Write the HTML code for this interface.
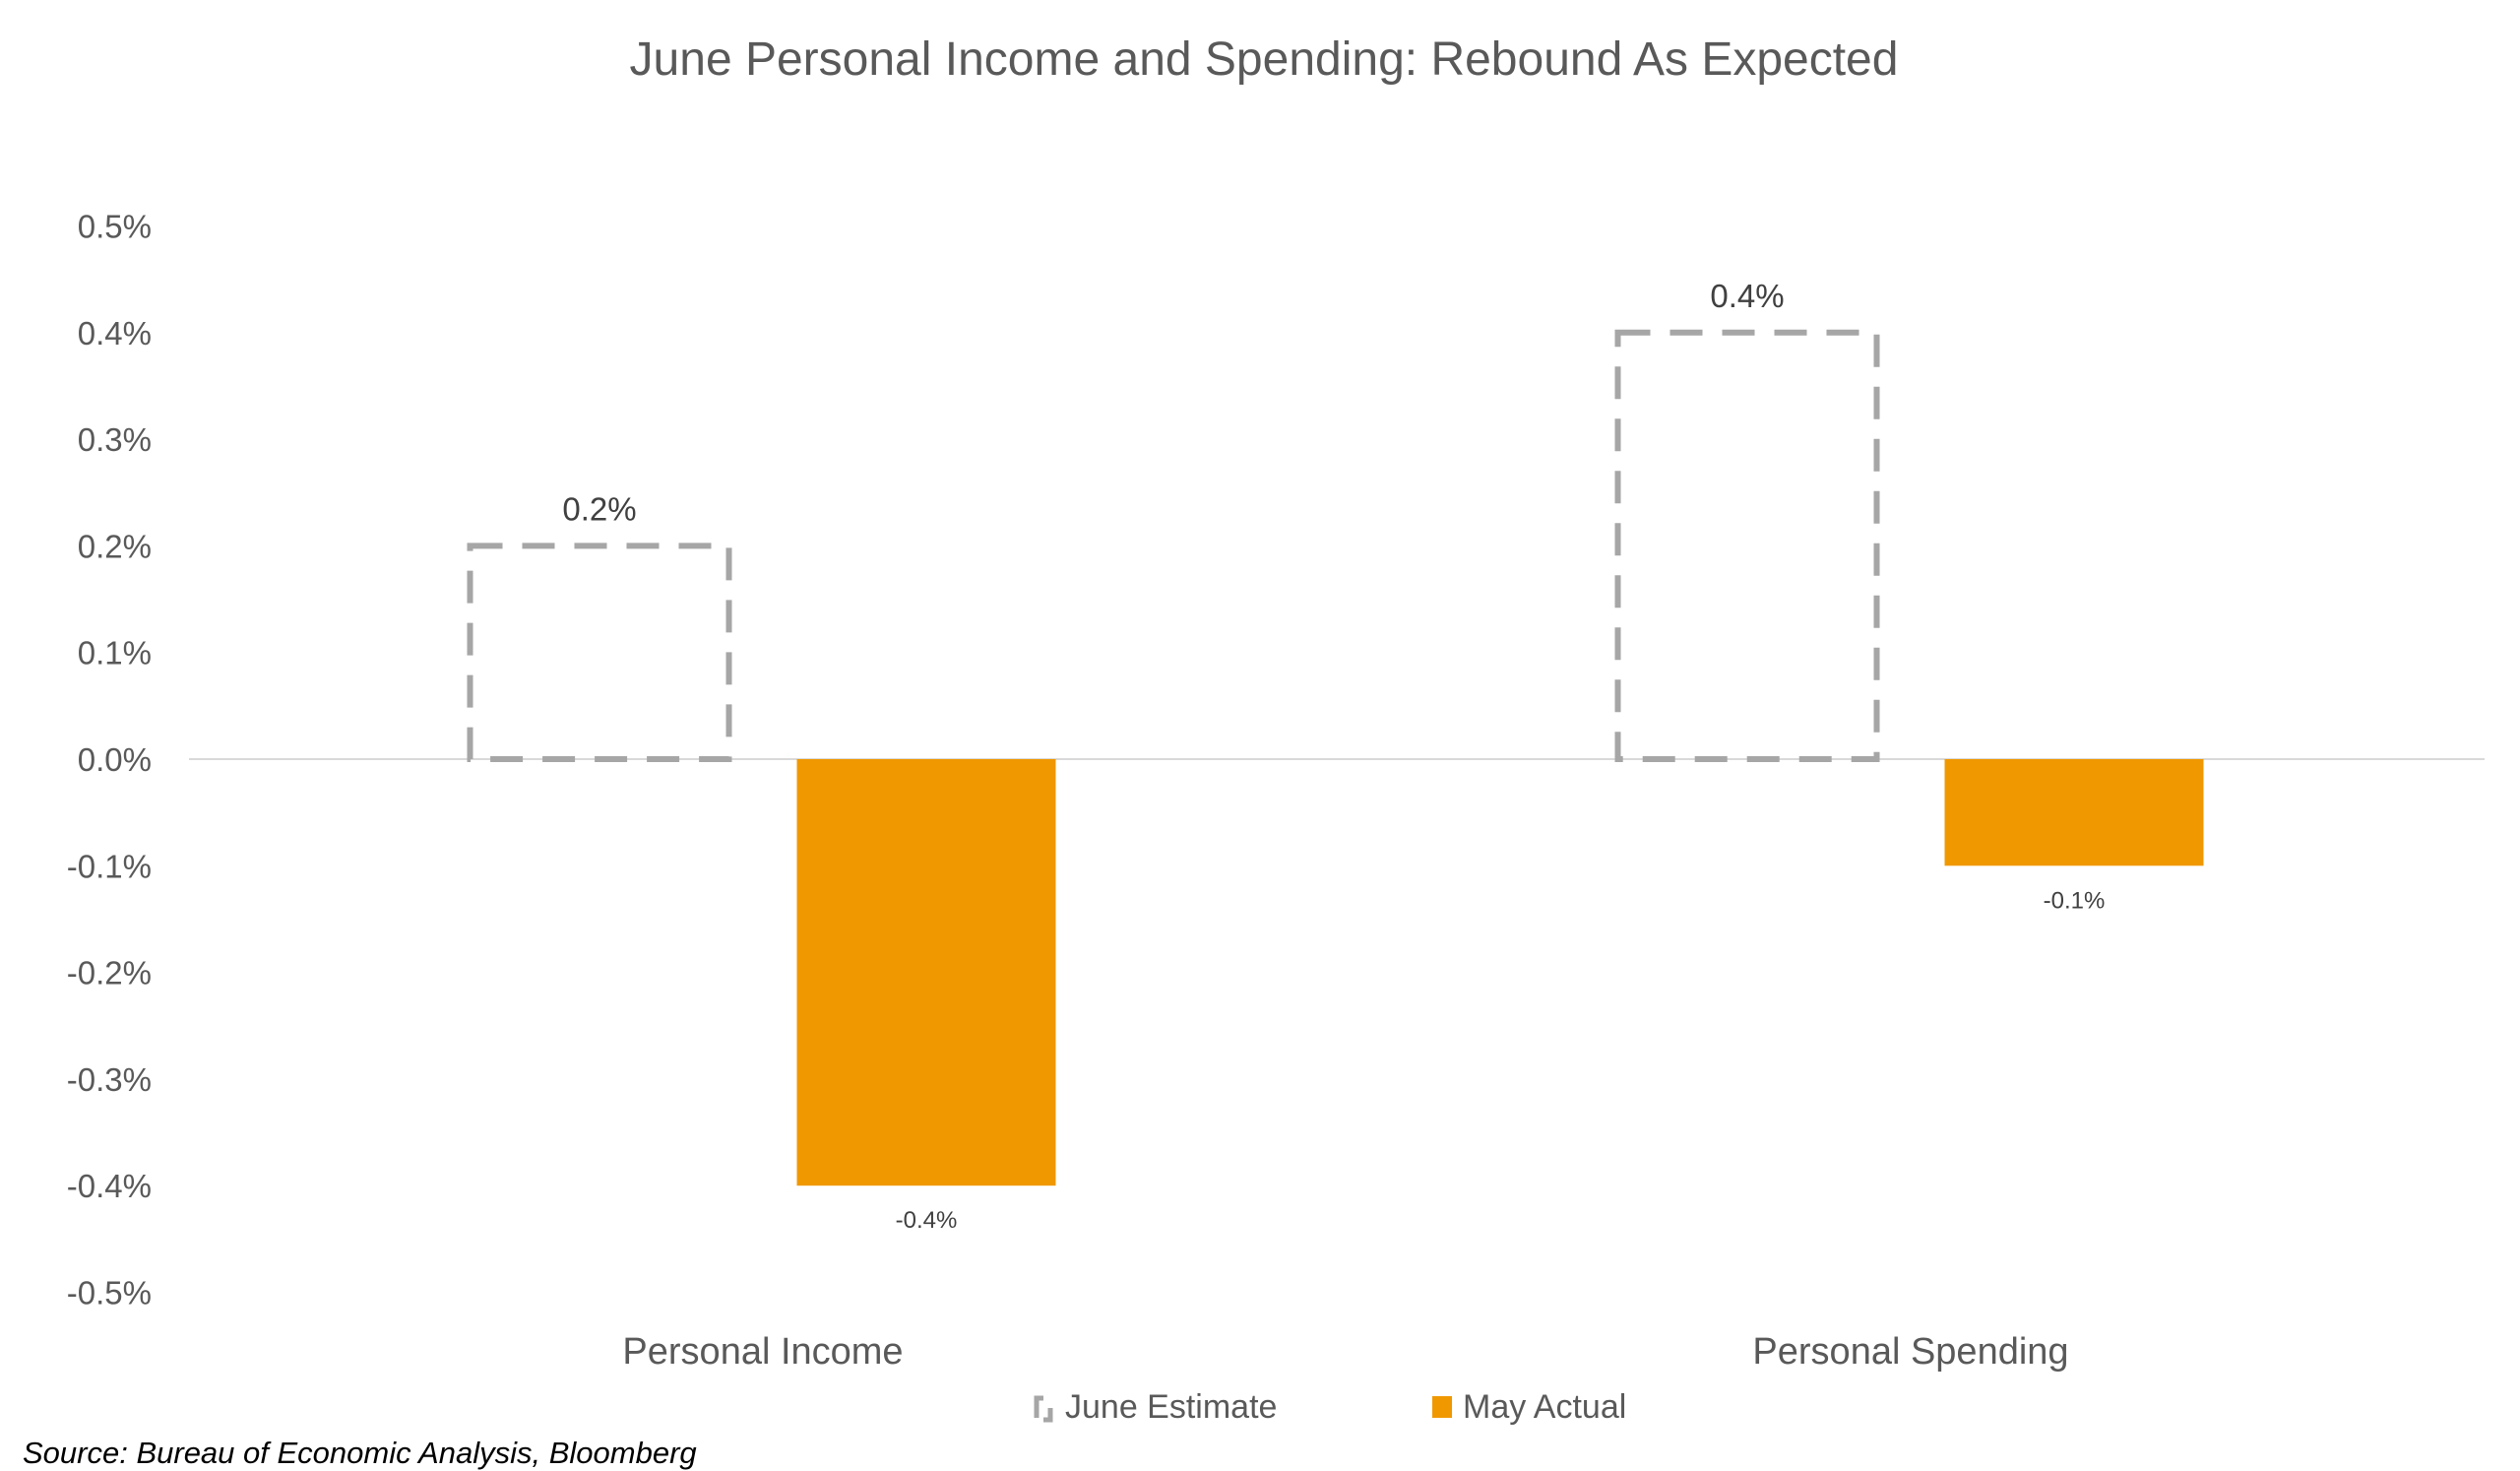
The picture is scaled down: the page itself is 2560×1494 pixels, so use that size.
<!DOCTYPE html>
<html><head><meta charset="utf-8"><style>
html,body{margin:0;padding:0;background:#fff;}
svg{display:block;font-family:"Liberation Sans",sans-serif;}
</style></head><body>
<svg id="chart" width="2560" height="1494" viewBox="0 0 2560 1494">
<text x="1284" y="76" text-anchor="middle" font-size="48" fill="#595959">June Personal Income and Spending: Rebound As Expected</text>
<g id="axis"></g>
<g id="bars"></g>
<g>
<path d="M1053,1440 V1420 H1060 M1067,1430 V1442 H1060" fill="none" stroke="#a6a6a6" stroke-width="5"/>
<text x="1082" y="1440" font-size="34" fill="#595959">June Estimate</text>
<rect x="1455" y="1418" width="20" height="22" fill="#F09800"/>
<text x="1486" y="1440" font-size="34" fill="#595959">May Actual</text>
</g>
<text x="23" y="1486" font-size="31" font-style="italic" fill="#000">Source: Bureau of Economic Analysis, Bloomberg</text>
</svg>
<script>
const categories = ["Personal Income", "Personal Spending"];
const juneEstimate = [0.2, 0.4];
const mayActual = [-0.4, -0.1];
const tickValues = [0.5, 0.4, 0.3, 0.2, 0.1, 0.0, -0.1, -0.2, -0.3, -0.4, -0.5];

const NS = "http://www.w3.org/2000/svg";
const plotL = 192, plotR = 2524, zeroY = 771, unit = 1083; // px per 1.0%
function y(v){ return zeroY - v * unit; }
function catCenter(i){ const w = (plotR - plotL) / categories.length; return plotL + w * (i + 0.5); }
const barW = 263, off = 166;
function mk(tag, attrs, parent){ const e = document.createElementNS(NS, tag); for (const k in attrs) e.setAttribute(k, attrs[k]); parent.appendChild(e); return e; }
const axis = document.getElementById('axis');
const bars = document.getElementById('bars');

tickValues.forEach(v => {
  const t = mk('text', {x:154, y:y(v)+12, 'text-anchor':'end', 'font-size':33, fill:'#595959'}, axis);
  
  
  t.textContent = v.toFixed(1) + '%';
});
const zl = mk('line', {x1:plotL, x2:plotR, y1:zeroY, y2:zeroY, stroke:'#d9d9d9', 'stroke-width':2}, axis);



categories.forEach((c, i) => {
  const cx = catCenter(i);
  const lbl = mk('text', {x:cx, y:1385, 'text-anchor':'middle', 'font-size':38, fill:'#595959'}, axis);
  
  
  lbl.textContent = c;

  const jv = juneEstimate[i];
  const jx = cx - off - barW/2;
  const jr = mk('rect', {x:jx, y:Math.min(y(jv), zeroY), width:barW, height:Math.abs(y(jv)-zeroY), fill:'none', stroke:'#a6a6a6', 'stroke-width':6, 'stroke-dasharray':'33 20'}, bars);
  
  
  const jl = mk('text', {x:cx - off, y:(jv >= 0 ? y(jv) - 26 : y(jv) + 44), 'text-anchor':'middle', 'font-size':33, fill:'#404040'}, bars);
  
  
  jl.textContent = jv.toFixed(1) + '%';

  const mv = mayActual[i];
  const mr = mk('rect', {x:cx + off - barW/2, y:Math.min(y(mv), zeroY), width:barW, height:Math.abs(y(mv)-zeroY), fill:'#F09800'}, bars);
  
  
  const ml = mk('text', {x:cx + off, y:(mv < 0 ? y(mv) + 43 : y(mv) - 20), 'text-anchor':'middle', 'font-size':24, fill:'#404040'}, bars);
  
  
  ml.textContent = mv.toFixed(1) + '%';
});
</script>
</body></html>
